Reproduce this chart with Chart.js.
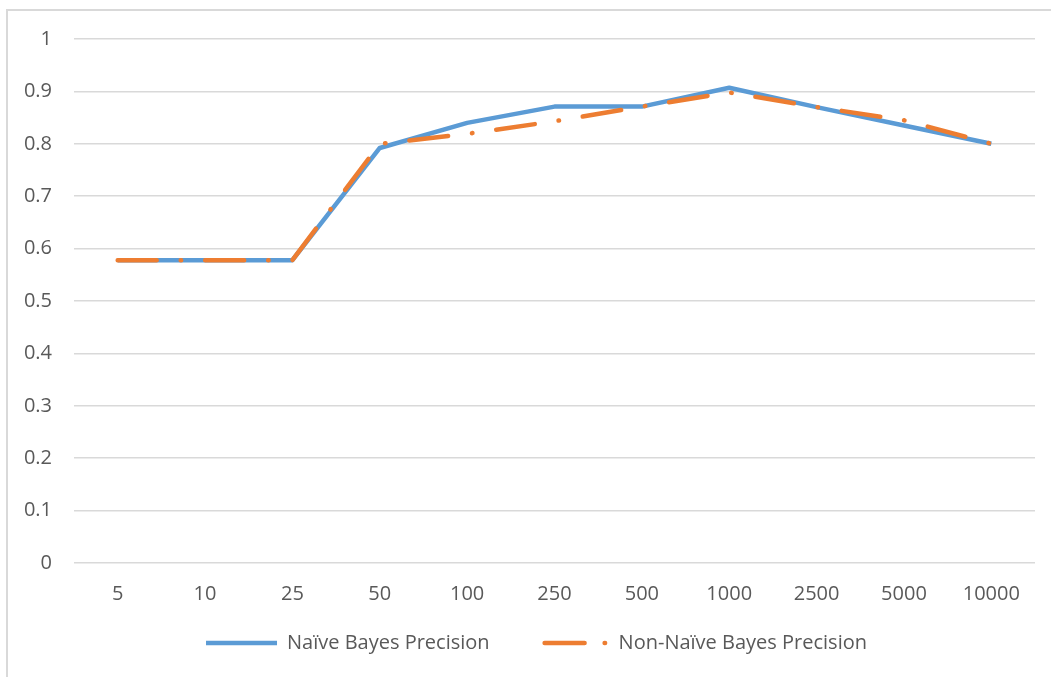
<!DOCTYPE html>
<html>
<head>
<meta charset="utf-8">
<script src="https://cdn.jsdelivr.net/npm/chart.js@4"></script>
<style>
  body { margin: 0; background: #fff; }
  #wrap { position: relative; width: 1051px; height: 677px; overflow: hidden; }
  #frame { position: absolute; left: 6px; top: 9px; width: 1100px; height: 700px;
           border-left: 2px solid #d9d9d9; border-top: 2px solid #d9d9d9; pointer-events: none; }
  canvas { position: absolute; left: 0; top: 0; }
</style>
</head>
<body>
<div id="wrap">
  <canvas id="chart" width="1051" height="677"></canvas>
  <div id="frame"></div>
</div>
<script>
// Data
const categories = ['5', '10', '25', '50', '100', '250', '500', '1000', '2500', '5000', '10000'];
const naivePrecision = [0.578, 0.578, 0.578, 0.792, 0.84, 0.871, 0.871, 0.907, 0.87, 0.835, 0.8];
const nonNaivePrecision = [0.578, 0.578, 0.578, 0.80, 0.819, 0.843, 0.871, 0.898, 0.87, 0.845, 0.8];

const textColor = '#595959';
const gridColor = '#d9d9d9';
const fontFamily = "'Open Sans', 'Liberation Sans', sans-serif";

// legend samples: a wide box, the visible part shifted right with a dash offset
const legendDash = [
  { dash: [71, 300], lead: 38, cap: 'butt' },
  { dash: [40, 20, 0.5, 300], lead: 45, cap: 'round' }
];

new Chart(document.getElementById('chart'), {
  type: 'line',
  data: {
    labels: categories,
    datasets: [{
      label: 'Naïve Bayes Precision',
      data: naivePrecision,
      borderColor: '#5b9bd5',
      backgroundColor: '#5b9bd5',
      borderWidth: 4.5,
      pointRadius: 0,
      tension: 0,
      borderJoinStyle: 'round',
      order: 2
    }, {
      label: 'Non-Naïve Bayes Precision',
      data: nonNaivePrecision,
      borderColor: '#ed7d31',
      backgroundColor: '#ed7d31',
      borderWidth: 4.5,
      pointRadius: 0,
      tension: 0,
      borderCapStyle: 'round',
      borderDash: [39, 24, 0.5, 24],
      order: 1
    }]
  },
  options: {
    responsive: false,
    animation: false,
    layout: { padding: { top: 39, right: 16, left: 0, bottom: 14 } },
    plugins: {
      tooltip: { enabled: false },
      legend: {
        position: 'bottom',
        labels: {
          color: textColor,
          font: { family: fontFamily, size: 20 },
          usePointStyle: true,
          boxWidth: 109,
          boxHeight: 4,
          pointStyleWidth: 109,
          padding: 10,
          sort: (a, b) => a.datasetIndex - b.datasetIndex,
          generateLabels: (chart) => {
            const items = Chart.defaults.plugins.legend.labels.generateLabels(chart);
            items.forEach((item) => {
              const d = legendDash[item.datasetIndex];
              const total = d.dash.reduce((a, b) => a + b, 0);
              item.pointStyle = 'line';
              item.lineWidth = 4.5;
              item.lineCap = d.cap;
              item.lineDash = d.dash;
              item.lineDashOffset = total - d.lead;
            });
            return items;
          }
        }
      }
    },
    scales: {
      x: {
        offset: true,
        grid: { display: false, drawTicks: false },
        border: { display: false },
        ticks: { color: textColor, font: { family: fontFamily, size: 20 }, padding: 19, maxRotation: 0 },
        afterFit: (scale) => { scale.height = 60; }
      },
      y: {
        min: 0,
        max: 1,
        grid: { color: gridColor, lineWidth: 1.5, drawTicks: false },
        border: { display: false },
        ticks: {
          stepSize: 0.1,
          color: textColor,
          font: { family: fontFamily, size: 20 },
          padding: 22,
          callback: (value) => String(Number(value.toFixed(1)))
        },
        afterFit: (scale) => { scale.width = 74; }
      }
    }
  }
});
</script>
</body>
</html>
